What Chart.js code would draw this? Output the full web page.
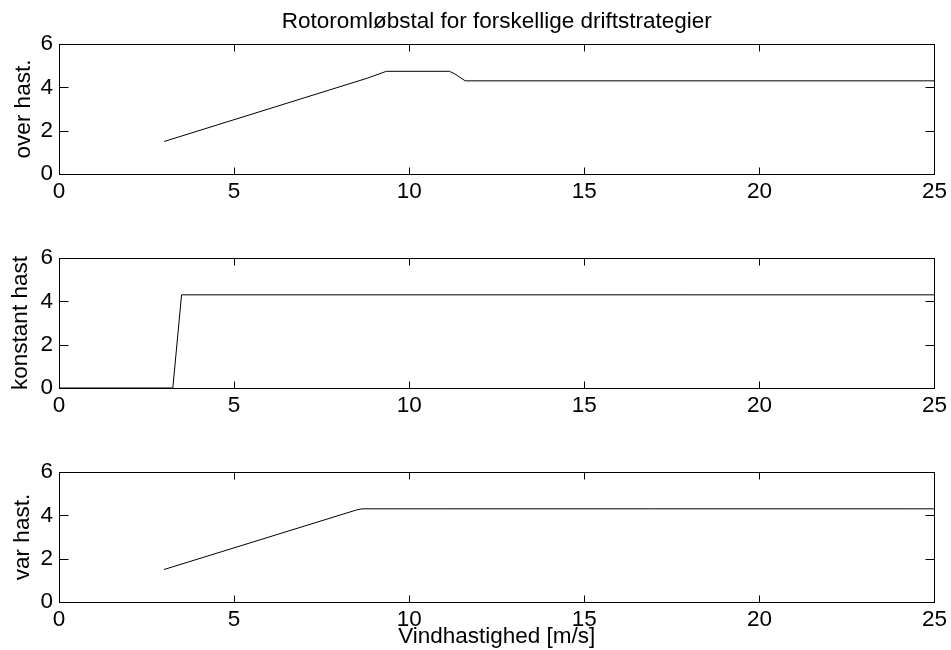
<!DOCTYPE html>
<html>
<head>
<meta charset="utf-8">
<script src="https://cdn.jsdelivr.net/npm/chart.js@4.4.1/dist/chart.umd.min.js"></script>
<style>
  html, body { margin: 0; padding: 0; background: #fff; }
  #fig { position: relative; width: 951px; height: 650px; background: #fff; }
  #fig canvas { position: absolute; left: 0; }
</style>
</head>
<body>
<div id="fig">
  <canvas id="cOver" width="951" height="216" style="top:0px"></canvas>
  <canvas id="cConst" width="951" height="214" style="top:216px"></canvas>
  <canvas id="cVar" width="951" height="220" style="top:430px"></canvas>
</div>
<script>
// Tick values shared by all three panels
const windTicks = [0, 5, 10, 15, 20, 25];
const tsrTicks = [0, 2, 4, 6];

// Over-speed strategy: wind speed [m/s] and tip speed ratio
const windOver = [3, 8.8, 9.35, 11.15, 11.3, 11.6, 25];
const tsrOver  = [1.5, 4.42, 4.74, 4.74, 4.62, 4.3, 4.3];

// Constant-speed strategy
const windConst = [0, 3.25, 3.5, 25];
const tsrConst  = [0, 0, 4.3, 4.3];

// Variable-speed strategy
const windVar = [3, 8.5, 8.65, 25];
const tsrVar  = [1.5, 4.25, 4.3, 4.3];

const FONT = "'Liberation Sans', Arial, Helvetica, sans-serif";
const FS = 22.5;
Chart.defaults.font.family = FONT;
Chart.defaults.font.size = FS;
Chart.defaults.color = '#000';

// Box around the axes with inward tick marks on all four sides
const boxTicks = {
  id: 'boxTicks',
  afterDatasetsDraw(chart) {
    const { ctx, chartArea: a, scales: { x, y } } = chart;
    const L = Math.round(a.left) + 0.5, R = Math.round(a.right) + 0.5;
    const T = Math.round(a.top) + 0.5, B = Math.round(a.bottom) + 0.5;
    ctx.save();
    ctx.strokeStyle = '#000';
    ctx.lineWidth = 1;
    ctx.strokeRect(L, T, R - L, B - T);
    ctx.beginPath();
    x.ticks.forEach(t => {
      const px = Math.round(x.getPixelForValue(t.value)) + 0.5;
      ctx.moveTo(px, B); ctx.lineTo(px, B - 7);
      ctx.moveTo(px, T); ctx.lineTo(px, T + 7);
    });
    y.ticks.forEach(t => {
      const py = Math.round(y.getPixelForValue(t.value)) + 0.5;
      ctx.moveTo(L, py); ctx.lineTo(L + 9, py);
      ctx.moveTo(R, py); ctx.lineTo(R - 9, py);
    });
    ctx.stroke();
    ctx.restore();
  }
};

function toPoints(xs, ys) {
  return xs.map((v, i) => ({ x: v, y: ys[i] }));
}

function panel(id, xs, ys, opts) {
  const xScale = {
    type: 'linear', min: 0, max: 25,
    afterBuildTicks: s => { s.ticks = windTicks.map(v => ({ value: v })); },
    afterFit: s => { s.height = opts.xHeight; },
    grid: { display: false, drawTicks: false },
    border: { display: false },
    ticks: { padding: 4, maxRotation: 0, autoSkip: false, color: '#000', font: { size: FS } }
  };
  if (opts.xTitle) {
    xScale.title = { display: true, text: opts.xTitle, color: '#000',
                     font: { size: FS }, padding: { top: 0, bottom: 0 } };
  }
  const plugins = { legend: { display: false }, tooltip: { enabled: false } };
  if (opts.title) {
    plugins.title = {
      display: true, text: opts.title, fullSize: false, color: '#000',
      font: { size: FS, weight: 'normal' }, padding: { top: 8, bottom: 9 }
    };
  }
  return new Chart(document.getElementById(id), {
    type: 'line',
    data: {
      datasets: [{
        data: toPoints(xs, ys),
        borderColor: '#000', borderWidth: 1,
        pointRadius: 0, tension: 0, fill: false, clip: false
      }]
    },
    options: {
      responsive: false, animation: false, devicePixelRatio: 1,
      layout: { padding: { left: 0, right: 15, top: opts.padTop, bottom: 0 } },
      scales: {
        x: xScale,
        y: {
          type: 'linear', min: 0, max: 6,
          afterBuildTicks: s => { s.ticks = tsrTicks.map(v => ({ value: v })); },
          afterFit: s => { s.width = 59; },
          grid: { display: false, drawTicks: false },
          border: { display: false },
          ticks: { padding: 6, color: '#000', font: { size: FS } },
          title: { display: true, text: opts.yTitle, color: '#000',
                   font: { size: FS }, padding: { top: opts.yTitlePad, bottom: 0 } }
        }
      },
      plugins
    },
    plugins: [boxTicks]
  });
}

panel('cOver', windOver, tsrOver, {
  title: 'Rotoromløbstal for forskellige driftstrategier',
  yTitle: 'over hast.', yTitlePad: 10, padTop: 0, xHeight: 42
});
panel('cConst', windConst, tsrConst, {
  yTitle: 'konstant hast', yTitlePad: 7, padTop: 42, xHeight: 42
});
panel('cVar', windVar, tsrVar, {
  yTitle: 'var hast.', yTitlePad: 9, padTop: 42, xHeight: 48,
  xTitle: 'Vindhastighed [m/s]'
});
</script>
</body>
</html>
